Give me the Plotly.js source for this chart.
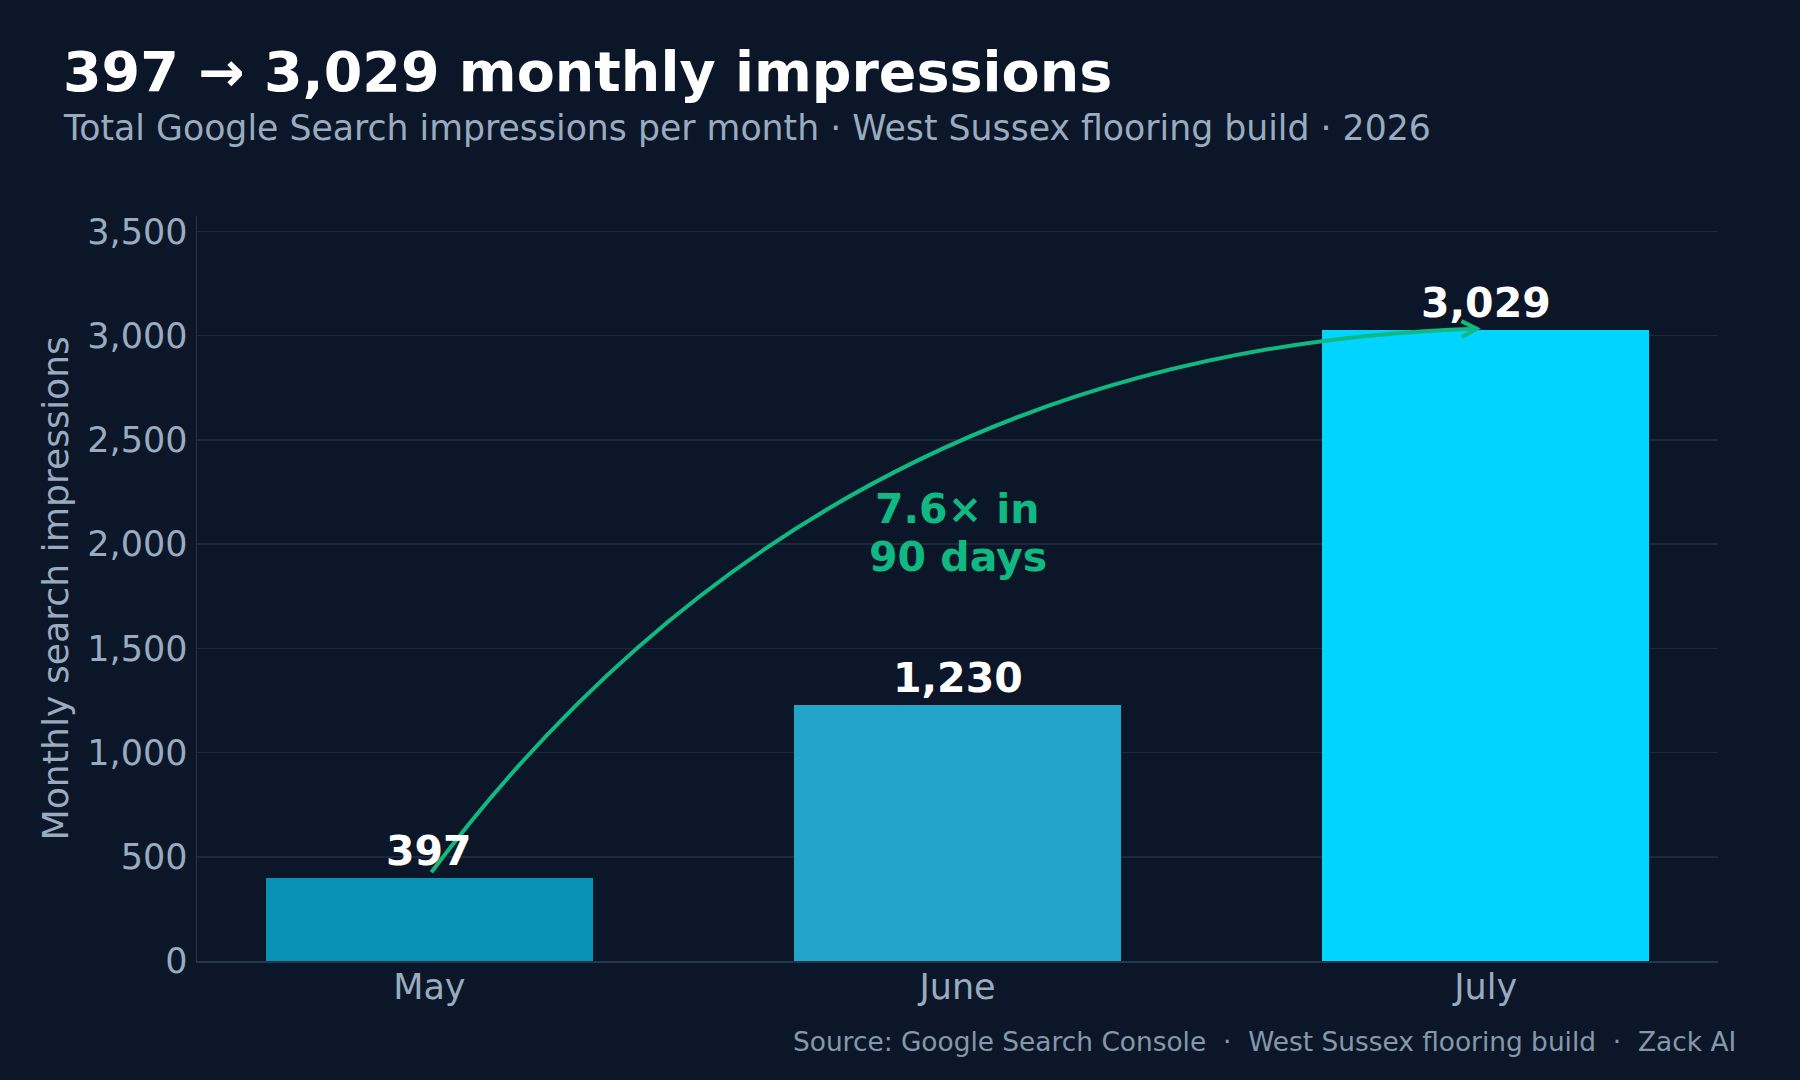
<!DOCTYPE html>
<html>
<head>
<meta charset="utf-8">
<script src="https://cdn.plot.ly/plotly-3.0.1.min.js"></script>
<style>
  html, body { margin: 0; padding: 0; background: #0b1728; }
  #chart { width: 1800px; height: 1080px; }
</style>
</head>
<body>
<div id="chart"></div>
<script>
// data
var months = ['May', 'June', 'July'];
var impressions = [397, 1230, 3029];
var valueLabels = ['397', '1,230', '3,029'];
var barColors = ['#0891b2', '#22a5c8', '#00d4ff'];
var yTickVals = [0, 500, 1000, 1500, 2000, 2500, 3000, 3500];
var yTickText = ['0', '500', '1,000', '1,500', '2,000', '2,500', '3,000', '3,500'];
var growthLines = ['7.6\u00d7 in', '90 days'];

// geometry
var W = 1800, H = 1080;
var M = {l: 197, r: 82, t: 216, b: 119};
var PW = W - M.l - M.r, PH = H - M.t - M.b;
var xRange = [-0.44, 2.44];
var yRange = [0, 3029 * 1.18];

var BG = '#0b1728', GRID = '#1b293b', SPINE = '#26364a';
var MUTED = '#9aabbf', GREEN = '#10b981';
var FONT = 'DejaVu Sans, sans-serif';

function toPx(x, y) {
	return [M.l + (x - xRange[0]) / (xRange[1] - xRange[0]) * PW,
	        M.t + (yRange[1] - y) / (yRange[1] - yRange[0]) * PH];
}
function toData(px, py) {
	return [xRange[0] + (px - M.l) / PW * (xRange[1] - xRange[0]),
	        yRange[1] - (py - M.t) / PH * (yRange[1] - yRange[0])];
}
function paperX(px) { return (px - M.l) / PW; }
function paperY(py) { return (H - M.b - py) / PH; }

// curved arrow, matplotlib arc3 style, computed in pixel space
var rad = 0.24;
var p0 = toPx(0, impressions[0]); p0[0] += 2; p0[1] -= 6;
var p2 = toPx(2, impressions[2]); p2[0] -= 9; p2[1] -= 1;
var mid = [(p0[0] + p2[0]) / 2, (p0[1] + p2[1]) / 2];
var dx = p2[0] - p0[0], dy = p2[1] - p0[1];
var ctl = [mid[0] + rad * dy, mid[1] - rad * dx];

function pt(p) { var d = toData(p[0], p[1]); return d[0] + ',' + d[1]; }

var curvePath = 'M ' + pt(p0) + ' Q ' + pt(ctl) + ' ' + pt(p2);

// arrow head (open chevron)
var tx = p2[0] - ctl[0], ty = p2[1] - ctl[1];
var tl = Math.sqrt(tx * tx + ty * ty); tx /= tl; ty /= tl;
var headLen = 17, headAng = 28 * Math.PI / 180;
function rot(vx, vy, a) { return [vx * Math.cos(a) - vy * Math.sin(a), vx * Math.sin(a) + vy * Math.cos(a)]; }
var a1 = rot(-tx, -ty, headAng), a2 = rot(-tx, -ty, -headAng);
var h1 = [p2[0] + a1[0] * headLen, p2[1] + a1[1] * headLen];
var h2 = [p2[0] + a2[0] * headLen, p2[1] + a2[1] * headLen];
var headPath = 'M ' + pt(h1) + ' L ' + pt(p2) + ' L ' + pt(h2);

var bars = {
	type: 'bar',
	x: [0, 1, 2],
	y: impressions,
	width: 0.62,
	marker: {color: barColors, line: {width: 0}},
	hoverinfo: 'skip'
};

var annotations = [];
impressions.forEach(function (v, i) {
	annotations.push({
		x: i, y: v, xref: 'x', yref: 'y',
		text: valueLabels[i], showarrow: false,
		xanchor: 'center', yanchor: 'bottom', yshift: 1,
		font: {family: FONT, size: 41, color: '#ffffff', weight: 700}
	});
});

// growth note, two lines with tight spacing
growthLines.forEach(function (t, i) {
	annotations.push({
		x: 1, y: paperY(509 + i * 48), xref: 'x', yref: 'paper',
		text: t, showarrow: false,
		xanchor: 'center', yanchor: 'middle',
		font: {family: FONT, size: 41, color: GREEN, weight: 700}
	});
});

// title, subtitle, source, y title
annotations.push({
	x: paperX(61), y: paperY(72), xref: 'paper', yref: 'paper',
	text: '397 \u2192 3,029 monthly impressions', showarrow: false,
	xanchor: 'left', yanchor: 'middle',
	font: {family: FONT, size: 55.5, color: '#ffffff', weight: 700}
});
annotations.push({
	x: paperX(61), y: paperY(128), xref: 'paper', yref: 'paper',
	text: 'Total Google Search impressions per month \u00b7 West Sussex flooring build \u00b7 2026',
	showarrow: false, xanchor: 'left', yanchor: 'middle',
	font: {family: FONT, size: 34.7, color: MUTED}
});
annotations.push({
	x: paperX(1738), y: paperY(1041), xref: 'paper', yref: 'paper',
	text: 'Source: Google Search Console  \u00b7  West Sussex flooring build  \u00b7  Zack AI',
	showarrow: false, xanchor: 'right', yanchor: 'middle',
	font: {family: FONT, size: 26.4, color: '#8797ab'}
});
annotations.push({
	x: paperX(55), y: 0.5, xref: 'paper', yref: 'paper',
	text: 'Monthly search impressions', showarrow: false, textangle: -90,
	xanchor: 'center', yanchor: 'middle',
	font: {family: FONT, size: 36.2, color: MUTED}
});

var layout = {
	width: W, height: H,
	margin: M,
	paper_bgcolor: BG, plot_bgcolor: BG,
	font: {family: FONT, color: MUTED},
	showlegend: false,
	bargap: 0,
	xaxis: {
		range: xRange, tickvals: [0, 1, 2], ticktext: months,
		showgrid: false, zeroline: false,
		showline: true, linecolor: SPINE, linewidth: 1.5,
		ticks: '', ticklabelstandoff: -6,
		tickfont: {family: FONT, size: 35, color: MUTED},
		fixedrange: true
	},
	yaxis: {
		range: yRange, tickvals: yTickVals, ticktext: yTickText,
		showgrid: true, gridcolor: GRID, gridwidth: 1.5,
		zeroline: false,
		showline: true, linecolor: SPINE, linewidth: 1.5,
		ticks: 'outside', ticklen: 1, tickcolor: 'rgba(0,0,0,0)',
		tickfont: {family: FONT, size: 35, color: MUTED},
		fixedrange: true
	},
	shapes: [
		{type: 'path', xref: 'x', yref: 'y', path: curvePath, line: {color: GREEN, width: 4}},
		{type: 'path', xref: 'x', yref: 'y', path: headPath, line: {color: GREEN, width: 4}}
	],
	annotations: annotations
};

Plotly.newPlot('chart', [bars], layout, {staticPlot: true, displaylogo: false});
</script>
</body>
</html>
